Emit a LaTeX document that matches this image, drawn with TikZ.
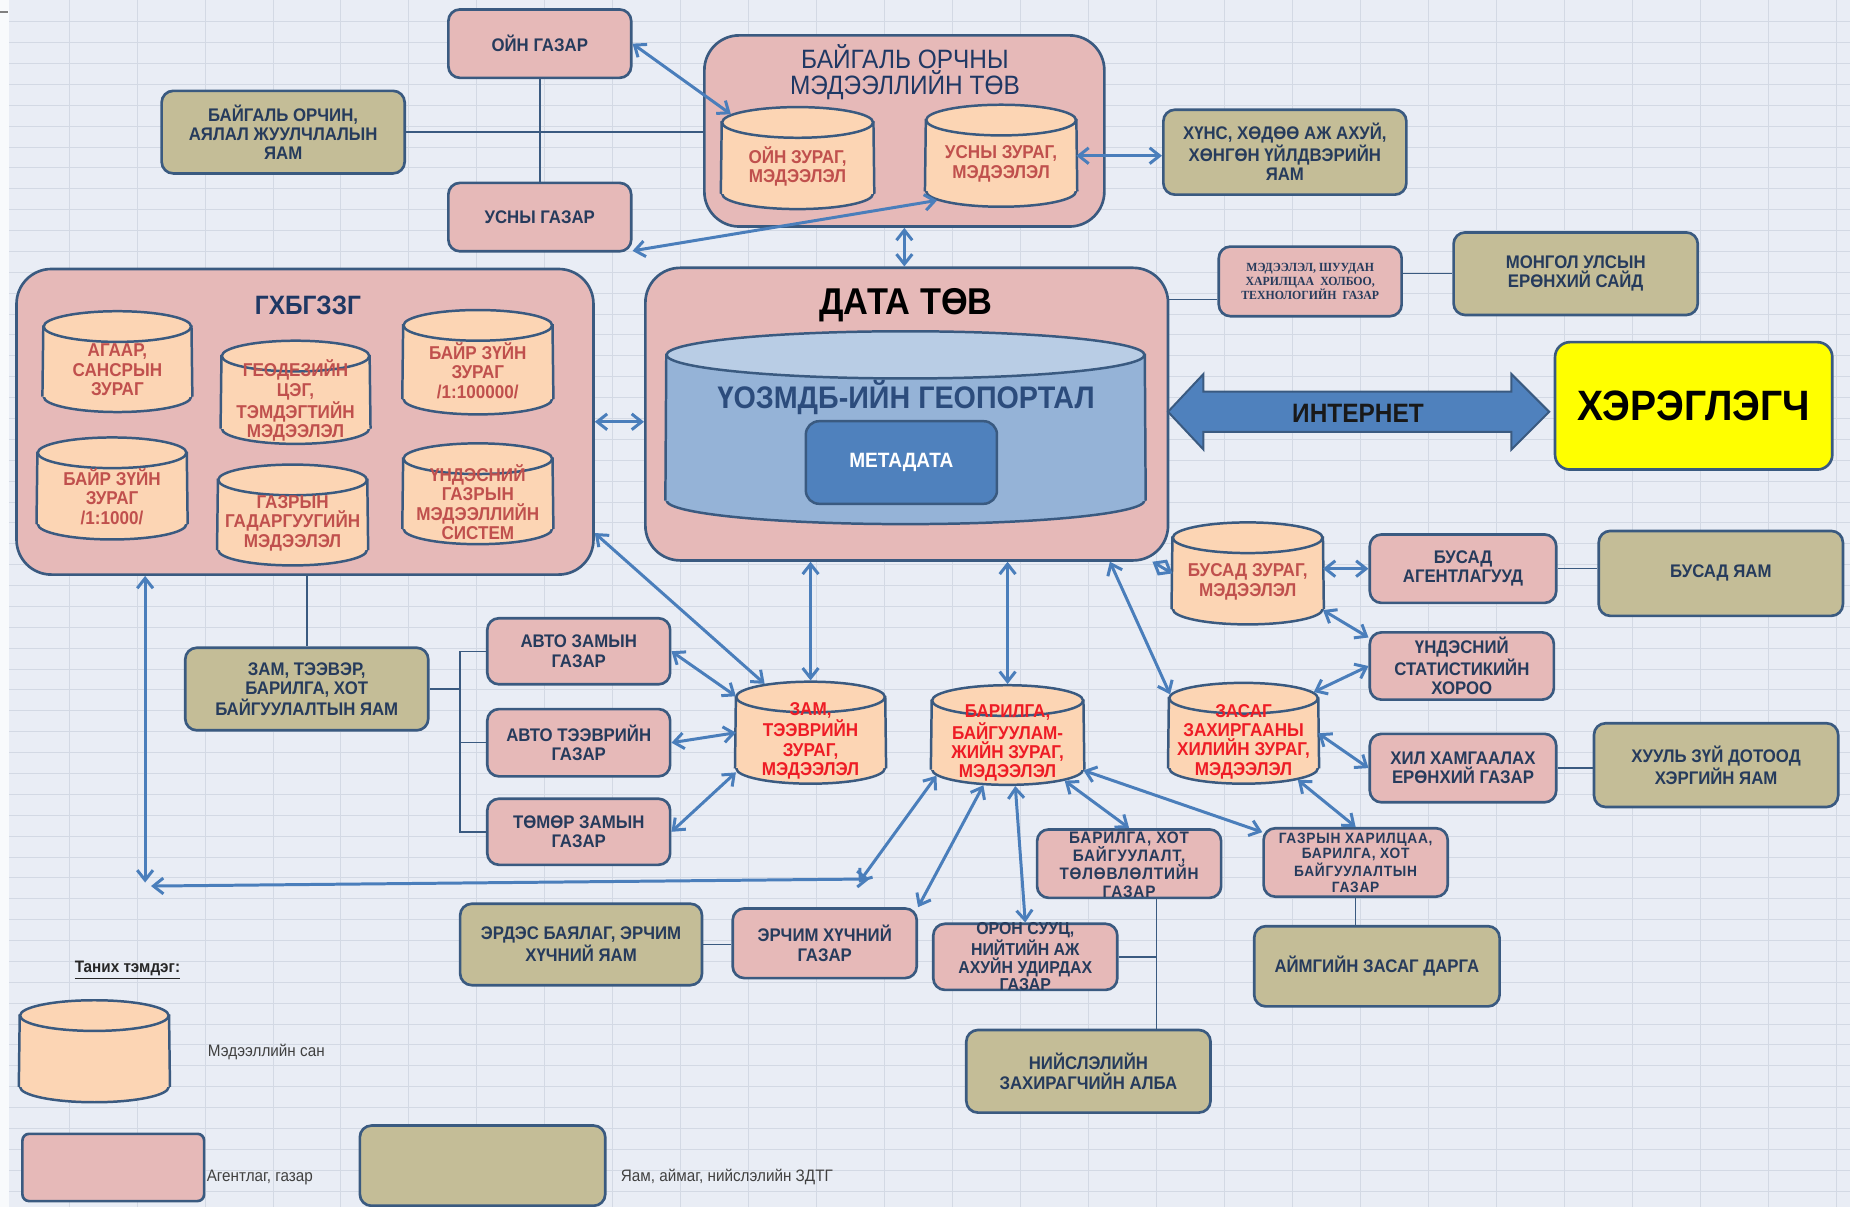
\documentclass[tikz,border=0pt]{standalone}
\usepackage{fontspec}
\setmainfont{Liberation Sans}[FakeStretch=0.92]
\newfontfamily\smallserif{Liberation Serif}[FakeStretch=0.95]
\newfontfamily\spacedsans{Liberation Sans}[FakeStretch=0.92, LetterSpace=5]
\usetikzlibrary{arrows.meta, shapes.geometric}

\definecolor{paper}{HTML}{E9EDF5}
\definecolor{gridgray}{HTML}{D3D9E4}
\definecolor{agencypink}{HTML}{E6B9B8}
\definecolor{ministryolive}{HTML}{C4BD97}
\definecolor{dborange}{HTML}{FCD5B4}
\definecolor{rimblue}{HTML}{3A5A80}
\definecolor{arrowblue}{HTML}{4A7EBB}
\definecolor{boxtext}{HTML}{263B5C}
\definecolor{dbred}{HTML}{C0504D}
\definecolor{hotred}{HTML}{EE1C25}
\definecolor{navytitle}{HTML}{1F3864}
\definecolor{portalbody}{HTML}{95B3D7}
\definecolor{portaltop}{HTML}{B9CDE5}
\definecolor{portaltext}{HTML}{2C4C7C}
\definecolor{metablue}{HTML}{4F81BD}
\definecolor{useryellow}{HTML}{FFFF00}

\newcommand\unitpx{0.025cm}
\newcommand\cylry{13}
\newcommand\boxfont{\bfseries\fontsize{11}{11.6}\selectfont}

% database drum: name, centre, width, height, text
\newcommand{\dbcyl}[6][dbtext]{%
  \node[sz={#4}{#5}, inner sep=0pt] (#2) at (#3) {};
  \node[cylend, cylbody, sz={#4}{2*\cylry}, anchor=south] (#2-bot) at (#2.south) {};
  \fill[cylbody] (#2-bot.west) rectangle ([yshift=-\cylry*\unitpx]#2.north east);
  \draw[cylrim] (#2-bot.west) -- ([yshift=-\cylry*\unitpx]#2.north west)
                (#2-bot.east) -- ([yshift=-\cylry*\unitpx]#2.north east);
  \node[cylend, cyltop, sz={#4}{2*\cylry}, anchor=north] (#2-top) at (#2.north) {};
  \node[#1] (#2-txt) at ([yshift=-5pt]#2.center) {#6};
}

\begin{document}
\begin{tikzpicture}[x=0.025cm, y=-0.025cm, >={Straight Barb[length=6pt,width=9.5pt]},
    sz/.style 2 args={minimum width=#1*\unitpx, minimum height=#2*\unitpx},
    gridline/.style={draw=gridgray, line width=0.6pt},
    agency/.style={draw=rimblue, line width=1.6pt, fill=agencypink, rounded corners=7pt,
      align=center, text=boxtext, font=\boxfont, inner sep=1pt},
    ministry/.style={agency, fill=ministryolive},
    bigbox/.style={draw=rimblue, line width=1.6pt, fill=agencypink, rounded corners=21pt},
    boxtitle/.style={align=center, text=navytitle, font=\fontsize{16}{15.8}\selectfont},
    boxlabel/.style={align=center, text=boxtext, inner sep=0pt,
      font=\bfseries\fontsize{10.4}{10.7}\selectfont},
    cylend/.style={ellipse, draw=rimblue, line width=1.5pt, inner sep=0pt},
    cylbody/.style={fill=dborange},
    cyltop/.style={fill=dborange},
    cylrim/.style={draw=rimblue, line width=1.5pt},
    dbtext/.style={align=center, text=dbred, inner sep=0pt,
      font=\bfseries\fontsize{11.2}{11.7}\selectfont},
    dbhot/.style={dbtext, text=hotred},
    legendtext/.style={anchor=west, text=black!75, inner sep=0pt,
      font=\fontsize{10}{12}\selectfont},
    arr/.style={draw=arrowblue, line width=1.8pt, <->},
    conn/.style={draw=rimblue, line width=0.9pt}]
\useasboundingbox (0,0) rectangle (1568,1023);

% Sheet and grid
\fill[paper] (0,0) rectangle (1568,1023);
\fill[white!70!paper] (0,0) rectangle (8,1023);
\foreach \gx in {1,...,27} \draw[gridline] (1+57.6*\gx,0) -- (1+57.6*\gx,1023);
\foreach \gy in {0,...,57} \draw[gridline] (8,18.4+17.7*\gy) -- (1568,18.4+17.7*\gy);
\draw[gray, line width=1.5pt] (0,10) -- (7,10);

% Environment group
\node[agency, sz={155}{58}] (ojngazar) at (457.5,37) {ОЙН ГАЗАР};
\node[agency, sz={155}{58}] (usgazar) at (457.5,184) {УСНЫ ГАЗАР};
\node[ministry, sz={206}{70}] (baigalyam) at (240,112) {БАЙГАЛЬ ОРЧИН,\\АЯЛАЛ ЖУУЛЧЛАЛЫН\\ЯАМ};
\node[bigbox, sz={339}{162}] (baigaltov) at (766.5,111) {};
\node[boxtitle] (baigaltov-title) at (767,61) {БАЙГАЛЬ ОРЧНЫ\\МЭДЭЭЛЛИЙН ТӨВ};
\dbcyl{ojncyl}{676,134}{128}{88}{ОЙН ЗУРАГ,\\МЭДЭЭЛЭЛ}
\dbcyl{uscyl}{848.5,132}{127}{88}{УСНЫ ЗУРАГ,\\МЭДЭЭЛЭЛ}
\node[ministry, sz={206}{72}] (khuns) at (1089,129) {ХҮНС, ХӨДӨӨ АЖ АХУЙ,\\ХӨНГӨН ҮЙЛДВЭРИЙН\\ЯАМ};

% ГХБГЗЗГ
\node[bigbox, sz={489}{259}] (ghb) at (258.5,357.5) {};
\node[boxtitle, font=\bfseries\fontsize{16}{18}\selectfont] (ghb-title) at (261,259) {ГХБГЗЗГ};
\dbcyl{agaar}{99.5,306.5}{125}{87}{АГААР,\\САНСРЫН\\ЗУРАГ}
\dbcyl{geodez}{250.5,332.5}{125}{89}{ГЕОДЕЗИЙН\\ЦЭГ,\\ТЭМДЭГТИЙН\\МЭДЭЭЛЭЛ}
\dbcyl{bairzui}{405,307}{126}{90}{БАЙР ЗҮЙН\\ЗУРАГ\\/1:100000/}
\dbcyl{bairzuib}{95,414}{126}{88}{БАЙР ЗҮЙН\\ЗУРАГ\\/1:1000/}
\dbcyl{gazgad}{248,436.5}{126}{87}{ГАЗРЫН\\ГАДАРГУУГИЙН\\МЭДЭЭЛЭЛ}
\dbcyl{undesgaz}{405,418.5}{126}{87}{ҮНДЭСНИЙ\\ГАЗРЫН\\МЭДЭЭЛЛИЙН\\СИСТЕМ}

% Data centre
\node[bigbox, sz={443}{248}] (datatov) at (768.5,351) {};
\node[font=\bfseries\fontsize{22.5}{24}\selectfont] (datatov-title) at (768,259) {ДАТА ТӨВ};
\begin{scope}[cylbody/.style={fill=portalbody}, cyltop/.style={fill=portaltop}]
  \renewcommand\cylry{20}
  \dbcyl{portal}{767.5,362.5}{405}{165}{}
\end{scope}
\node[text=portaltext, font=\bfseries\fontsize{18.8}{20}\selectfont] (portal-title) at (768,337) {ҮОЗМДБ-ИЙН ГЕОПОРТАЛ};
\node[draw=rimblue, line width=1.5pt, fill=metablue, rounded corners=8pt, sz={162}{70},
  text=white, font=\bfseries\fontsize{12.5}{14}\selectfont] (metadata) at (764,392) {МЕТАДАТА};

% Prime minister side and users
\node[agency, sz={155}{59}, font=\smallserif\bfseries\fontsize{7.5}{8.5}\selectfont] (medeel) at (1110.5,238.5)
  {МЭДЭЭЛЭЛ, ШУУДАН\\ХАРИЛЦАА\enspace ХОЛБОО,\\ТЕХНОЛОГИЙН\enspace ГАЗАР};
\node[ministry, sz={207}{70}] (monsaid) at (1335.5,232) {МОНГОЛ УЛСЫН\\ЕРӨНХИЙ САЙД};
\filldraw[fill=metablue, draw=rimblue, line width=1.2pt] (990,349) -- (1020,317) -- (1020,332)
  -- (1281,332) -- (1281,317) -- (1313,349) -- (1281,381) -- (1281,366) -- (1020,366)
  -- (1020,381) -- cycle;
\node[text=black!90, font=\bfseries\fontsize{16}{18}\selectfont] (internet) at (1151,350) {ИНТЕРНЕТ};
\node[draw=rimblue, line width=1.6pt, fill=useryellow, rounded corners=9pt, sz={235}{108},
  font=\bfseries\fontsize{25.6}{28}\selectfont] (hereglegch) at (1435.5,344) {ХЭРЭГЛЭГЧ};

% Right column
\dbcyl{busadcyl}{1057.5,486}{127}{88}{БУСАД ЗУРАГ,\\МЭДЭЭЛЭЛ}
\node[agency, sz={158}{58}] (busadag) at (1240,482) {БУСАД\\АГЕНТЛАГУУД};
\node[ministry, sz={207}{72}] (busadyam) at (1458.5,486) {БУСАД ЯАМ};
\node[agency, sz={156}{57}] (undesstat) at (1239,564.5) {ҮНДЭСНИЙ\\СТАТИСТИКИЙН\\ХОРОО};
\node[agency, sz={158}{58}] (khil) at (1240,651) {ХИЛ ХАМГААЛАХ\\ЕРӨНХИЙ ГАЗАР};
\node[ministry, sz={207}{71}] (khuul) at (1454.5,648.5) {ХУУЛЬ ЗҮЙ ДОТООД\\ХЭРГИЙН ЯАМ};
\dbcyl[dbhot]{zasagcyl}{1054,621.5}{126}{87}{ЗАСАГ\\ЗАХИРГААНЫ\\ХИЛИЙН ЗУРАГ,\\МЭДЭЭЛЭЛ}

% Roads and construction
\node[ministry, sz={206}{70}] (zamyam) at (260,584) {ЗАМ, ТЭЭВЭР,\\БАРИЛГА, ХОТ\\БАЙГУУЛАЛТЫН ЯАМ};
\node[agency, sz={155}{56}] (avtozam) at (490.5,552) {АВТО ЗАМЫН\\ГАЗАР};
\node[agency, sz={155}{57}] (avtotee) at (490.5,629.5) {АВТО ТЭЭВРИЙН\\ГАЗАР};
\node[agency, sz={155}{56}] (tomor) at (490.5,705) {ТӨМӨР ЗАМЫН\\ГАЗАР};
\dbcyl[dbhot]{zamcyl}{687,621}{126}{88}{ЗАМ,\\ТЭЭВРИЙН\\ЗУРАГ,\\МЭДЭЭЛЭЛ}
\dbcyl[dbhot]{barcyl}{854,623}{128}{86}{БАРИЛГА,\\БАЙГУУЛАМ-\\ЖИЙН ЗУРАГ,\\МЭДЭЭЛЭЛ}
\node[ministry, sz={205}{69}] (erdes) at (492.5,800.5) {ЭРДЭС БАЯЛАГ, ЭРЧИМ\\ХҮЧНИЙ ЯАМ};
\node[agency, sz={156}{59}] (erchim) at (699,799.5) {ЭРЧИМ ХҮЧНИЙ\\ГАЗАР};
\node[agency, sz={156}{56}] (oronsuuts) at (869,811) {};
\node[boxlabel] (oronsuuts-txt) at (869,811) {ОРОН СУУЦ,\\НИЙТИЙН АЖ\\АХУЙН УДИРДАХ\\ГАЗАР};
\node[agency, sz={156}{58}] (barhot) at (957,732) {};
\node[boxlabel, font=\spacedsans\bfseries\fontsize{10}{10.9}\selectfont] (barhot-txt) at (957,733)
  {БАРИЛГА, ХОТ\\БАЙГУУЛАЛТ,\\ТӨЛӨВЛӨЛТИЙН\\ГАЗАР};
\node[agency, sz={156}{58}, font=\spacedsans\bfseries\fontsize{9}{9.5}\selectfont] (gazhar) at (1149,731)
  {ГАЗРЫН ХАРИЛЦАА,\\БАРИЛГА, ХОТ\\БАЙГУУЛАЛТЫН\\ГАЗАР};
\node[ministry, sz={208}{68}] (aimag) at (1167,819) {АЙМГИЙН ЗАСАГ ДАРГА};
\node[ministry, sz={207}{70}] (nislel) at (922.5,908) {НИЙСЛЭЛИЙН\\ЗАХИРАГЧИЙН АЛБА};

% Legend
\node[text=black!85, font=\bfseries\fontsize{10}{12}\selectfont] (legend-title) at (108,822) {\underline{Таних тэмдэг:}};
\dbcyl{legcyl}{80,891}{126}{88}{}
\node[legendtext] (legcyl-label) at (176,892) {Мэдээллийн сан};
\node[agency, sz={154}{57}, rounded corners=4pt] (legpink) at (96,989.5) {};
\node[legendtext] (legpink-label) at (175,998) {Агентлаг, газар};
\node[ministry, sz={208}{68}] (legolive) at (409,988) {};
\node[legendtext] (legolive-label) at (526,998) {Яам, аймаг, нийслэлийн ЗДТГ};

% Plain links
\coordinate (brk) at (390,0);
\coordinate (nsl) at (980,0);
\coordinate (mline) at (0,254);
\draw[conn] (ojngazar.south) -- (usgazar.north);
\draw[conn] (baigalyam.east) -- (baigalyam.east -| baigaltov.west);
\draw[conn] (datatov.east |- mline) -- (medeel.west |- mline);
\draw[conn] (medeel.east |- monsaid.west) -- (monsaid.west);
\draw[conn] (busadag.east) -- (busadag.east -| busadyam.west);
\draw[conn] (khil.east) -- (khil.east -| khuul.west);
\draw[conn] (ghb.south -| zamyam.north) -- (zamyam.north);
\draw[conn] (zamyam.east) -- (zamyam.east -| brk);
\draw[conn] (avtozam.west) -- (avtozam.west -| brk) -- (tomor.west -| brk) -- (tomor.west);
\draw[conn] (avtotee.west) -- (avtotee.west -| brk);
\draw[conn] (erdes.east) -- (erdes.east -| erchim.west);
\draw[conn] (barhot.south -| nsl) -- (nislel.north -| nsl);
\draw[conn] (oronsuuts.east) -- (oronsuuts.east -| nsl);
\draw[conn] (gazhar.south) -- (gazhar.south |- aimag.north);

% Data exchange arrows
\coordinate (vend) at (123,748);
\coordinate (hstart) at (128,751);
\coordinate (hend) at (737,745);
\coordinate (dstart) at (728,748);
\draw[arr] (ojngazar.east) -- (ojncyl-top.173);
\draw[arr] (usgazar.-20) -- (uscyl-bot.188);
\draw[arr] (uscyl.east) -- (uscyl.east -| khuns.west);
\draw[arr] (baigaltov.south) -- (baigaltov.south |- datatov.north);
\draw[arr] (ghb.east) -- (ghb.east -| datatov.west);
\draw[arr] (ghb.-21) -- (zamcyl-top.164);
\draw[arr] (datatov.south -| zamcyl.north) -- (zamcyl.north);
\draw[arr] (datatov.south -| barcyl.north) -- (barcyl.north);
\draw[arr] (datatov.-36) -- (zasagcyl-top.177);
\draw[arr] (datatov.-31) -- (busadcyl.west);
\draw[arr] (busadcyl.east |- busadag.west) -- (busadag.west);
\draw[arr] (busadcyl.-26) -- (undesstat.163);
\draw[arr] (zasagcyl-top.5) -- (undesstat.west);
\draw[arr] (zasagcyl.east) -- (khil.west);
\draw[arr] (zasagcyl-bot.-12) -- (gazhar.north);
\draw[arr] (barcyl.-25) -- (gazhar.162);
\draw[arr] (barcyl-bot.-11) -- (barhot.north);
\draw[arr] (barcyl-bot.-65) -- (oronsuuts.north);
\draw[arr] (barcyl-bot.213) -- (erchim.north east);
\draw[arr] (barcyl-bot.185) -- (dstart);
\draw[arr] (avtozam.east) -- (zamcyl.154);
\draw[arr] (avtotee.east) -- (zamcyl.west);
\draw[arr] (tomor.east) -- (zamcyl.208);
\draw[arr] (ghb.south -| vend) -- (vend);
\draw[arr] (hstart) -- (hend);
\end{tikzpicture}
\end{document}
